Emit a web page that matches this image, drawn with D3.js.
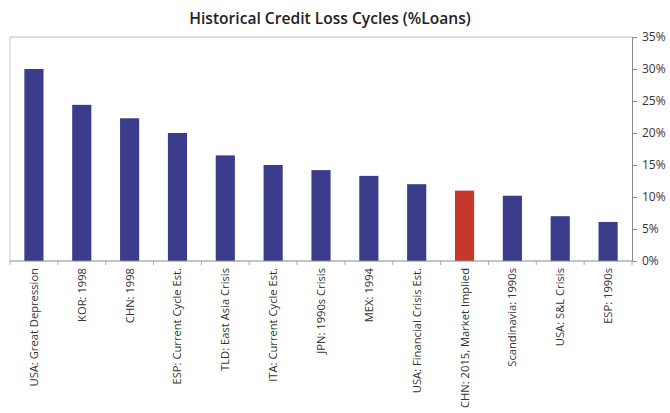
<!DOCTYPE html>
<html>
<head>
<meta charset="utf-8">
<script src="https://cdn.jsdelivr.net/npm/d3@7"></script>
<style>
  body { margin: 0; background: #fff; }
  svg { display: block; }
</style>
</head>
<body>
<svg id="chart" width="670" height="413"></svg>
<script>
const categories = [
  "USA: Great Depression", "KOR: 1998", "CHN: 1998", "ESP: Current Cycle Est.",
  "TLD: East Asia Crisis", "ITA: Current Cycle Est.", "JPN: 1990s Crisis", "MEX: 1994",
  "USA: Financial Crisis Est.", "CHN: 2015, Market Implied", "Scandinavia: 1990s",
  "USA: S&L Crisis", "ESP: 1990s"
];
const lossPct = [30.0, 24.4, 22.3, 20.0, 16.5, 15.0, 14.2, 13.3, 12.0, 11.0, 10.2, 7.0, 6.1];
const highlighted = ["CHN: 2015, Market Implied"];
const yTicks = [0, 5, 10, 15, 20, 25, 30, 35];

const svg = d3.select("#chart");
const margin = { top: 37, right: 38, bottom: 152, left: 10 };
const W = 670, H = 413;
const iw = W - margin.left - margin.right;
const ih = H - margin.top - margin.bottom;

const font = "'Open Sans', 'Noto Sans', sans-serif";

svg.append("text")
  .attr("x", 330).attr("y", 24)
  .attr("text-anchor", "middle")
  .style("font-family", font)
  .style("font-size", "15.6px")
  .style("font-weight", "600")
  .attr("fill", "#222")
  .text("Historical Credit Loss Cycles (%Loans)");

const g = svg.append("g").attr("transform", `translate(${margin.left},${margin.top})`);

const x = d3.scaleBand().domain(categories).range([0, iw]).paddingInner(0.6).paddingOuter(0.3);
const y = d3.scaleLinear().domain([0, 35]).range([ih, 0]);

// plot frame (top and left edges)
g.append("line").attr("x1", 0).attr("x2", iw).attr("y1", 0).attr("y2", 0)
  .attr("stroke", "#bbb").attr("stroke-width", 1);
g.append("line").attr("x1", 0).attr("x2", 0).attr("y1", 0).attr("y2", ih)
  .attr("stroke", "#ccc").attr("stroke-width", 1);

// bars
g.selectAll("rect.bar")
  .data(categories.map((c, i) => ({ c, v: lossPct[i] })))
  .join("rect")
  .attr("class", "bar")
  .attr("x", d => x(d.c))
  .attr("width", x.bandwidth())
  .attr("y", d => y(d.v))
  .attr("height", d => ih - y(d.v))
  .attr("fill", d => highlighted.includes(d.c) ? "#c8372b" : "#3c3c8c");

// right value axis
const yAxis = g.append("g")
  .attr("transform", `translate(${iw},0)`)
  .call(d3.axisRight(y).tickValues(yTicks).tickFormat(d => d + "%").tickSize(5).tickPadding(5));
yAxis.select(".domain").attr("stroke", "#888");
yAxis.selectAll(".tick line").attr("stroke", "#888");
yAxis.selectAll("text")
  .style("font-family", font).style("font-size", "12px").attr("fill", "#333");

// bottom category axis with ticks between bands
const step = x.step();
const boundaries = d3.range(categories.length + 1).map(i => x(categories[0]) - x.paddingInner() * step / 2 + i * step);
const xg = g.append("g").attr("transform", `translate(0,${ih})`);
xg.append("line").attr("x1", 0).attr("x2", iw).attr("stroke", "#888");
xg.selectAll("line.tk").data(boundaries).join("line")
  .attr("class", "tk")
  .attr("x1", d => d).attr("x2", d => d).attr("y1", 0).attr("y2", 4)
  .attr("stroke", "#aaa");

xg.selectAll("text.lbl").data(categories).join("text")
  .attr("class", "lbl")
  .attr("transform", d => `translate(${x(d) + x.bandwidth() / 2 + 4},7) rotate(-90)`)
  .attr("text-anchor", "end")
  .style("font-family", font)
  .style("font-size", "11.2px")
  .attr("fill", "#333")
  .text(d => d);
</script>
</body>
</html>
